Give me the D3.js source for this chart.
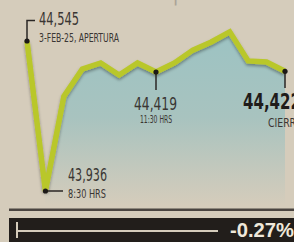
<!DOCTYPE html>
<html lang="es">
  <head>
    <meta charset="utf-8">
    <title>Bolsa - puntos</title>
    <script src="https://d3js.org/d3.v7.min.js"></script>
    <style>
      html, body { margin: 0; padding: 0; background: #d5ccbb; }
      svg { display: block; }
    </style>
  </head>
  <body>
    <script type="text/javascript">
      // horas de cada lectura (cada media hora)
      const horas = ["8:00","8:30","9:00","9:30","10:00","10:30","11:00","11:30",
                     "12:00","12:30","13:00","13:30","14:00","14:30","15:00"];
      // puntos del indice
      const puntos = [44545, 43936, 44320, 44431, 44456, 44407, 44456, 44419,
                      44456, 44508, 44541, 44582, 44464, 44460, 44422];
      // etiquetas destacadas: indice, valor, nota
      const etiquetas = [
        {i: 0, valor: "44,545", nota: "3-FEB-25, APERTURA"},
        {i: 1, valor: "43,936", nota: "8:30 HRS"},
        {i: 7, valor: "44,419", nota: "11:30 HRS"},
        {i: 14, valor: "44,422", nota: "CIERRE"}
      ];
      const variacion = "-0.27%";
      const titulo = "Bolsa mexicana | Puntos";

      const width = 294;
      const height = 242;
      const font = "'Liberation Sans Narrow', 'DejaVu Sans Condensed', sans-serif";
      const ink = "#3a3633";
      const lineColor = "#b9c72b";
      const base = 205;

      const svg = d3.select("body")
        .append("svg")
        .attr("width", width)
        .attr("height", height);

      const defs = svg.append("defs");
      const grad = defs.append("linearGradient")
        .attr("id", "relleno")
        .attr("gradientUnits", "userSpaceOnUse")
        .attr("x1", 0).attr("y1", 30).attr("x2", 0).attr("y2", base);
      grad.append("stop").attr("offset", 0).attr("stop-color", "#9cc3c3");
      grad.append("stop").attr("offset", 0.5).attr("stop-color", "#a8c3bf");
      grad.append("stop").attr("offset", 1).attr("stop-color", "#d5ccbb");

      const shadow = defs.append("filter")
        .attr("id", "sombra")
        .attr("x", "-10%").attr("y", "-10%")
        .attr("width", "120%").attr("height", "130%");
      shadow.append("feDropShadow")
        .attr("dx", 0).attr("dy", 2)
        .attr("stdDeviation", 1.5)
        .attr("flood-color", "#000")
        .attr("flood-opacity", 0.35);

      svg.append("rect")
        .attr("width", width).attr("height", height)
        .attr("fill", "#d5ccbb");

      // titulo cortado arriba
      svg.append("text")
        .attr("x", 10).attr("y", 0)
        .attr("font-family", font)
        .attr("font-size", 22)
        .attr("fill", "#aaa397")
        .text(titulo);

      const x = d3.scalePoint()
        .domain(horas)
        .range([27, 285]);

      const y = d3.scaleLinear()
        .domain([43936, 44545])
        .range([191, 41]);

      const pts = horas.map((h, i) => [x(h), y(puntos[i])]);

      // area bajo la linea, limitada por el brazo izquierdo
      const poly = pts.concat([[x(horas[horas.length - 1]), base], [x(horas[1]), base]]);
      svg.append("path")
        .attr("d", d3.line()(poly) + "Z")
        .attr("fill", "url(#relleno)");

      svg.append("path")
        .attr("d", d3.line()(pts))
        .attr("fill", "none")
        .attr("stroke", lineColor)
        .attr("stroke-width", 5.5)
        .attr("stroke-linejoin", "miter")
        .attr("filter", "url(#sombra)");

      // guias
      const p0 = pts[0], p1 = pts[1], p7 = pts[7], p14 = pts[14];
      const guias = [
        [[p0[0], p0[1]], [p0[0], 20.5], [35, 20.5]],
        [[p1[0], p1[1]], [63, p1[1]]],
        [[p7[0], p7[1]], [p7[0], 90]],
        [[p14[0], p14[1]], [p14[0], 88]]
      ];
      svg.append("g")
        .selectAll("path")
        .data(guias)
        .enter()
        .append("path")
        .attr("d", d => d3.line()(d))
        .attr("fill", "none")
        .attr("stroke", "#2a2624")
        .attr("stroke-width", 1.5);

      svg.append("g")
        .selectAll("circle")
        .data(etiquetas)
        .enter()
        .append("circle")
        .attr("cx", d => pts[d.i][0])
        .attr("cy", d => pts[d.i][1])
        .attr("r", 2.6)
        .attr("fill", "#1c1917");

      // textos de las etiquetas
      const pos = [
        {vx: 39, vy: 25, vl: 40, vs: 18, vw: "normal", nx: 39, ny: 42, nl: 80, ns: 12},
        {vx: 68, vy: 181, vl: 39, vs: 18, vw: "normal", nx: 68, ny: 198, nl: 38, ns: 12},
        {vx: 134, vy: 110, vl: 43, vs: 18, vw: "normal", nx: 140, ny: 123, nl: 32, ns: 11},
        {vx: 243, vy: 109, vl: 58, vs: 22, vw: "bold", nx: 268, ny: 127, nl: 34, ns: 12}
      ];
      const gl = svg.append("g");
      etiquetas.forEach((d, k) => {
        const p = pos[k];
        gl.append("text")
          .attr("x", p.vx).attr("y", p.vy)
          .attr("font-family", font)
          .attr("font-size", p.vs)
          .attr("font-weight", p.vw)
          .attr("textLength", p.vl)
          .attr("lengthAdjust", "spacingAndGlyphs")
          .attr("fill", k === 3 ? "#1f1c1a" : ink)
          .text(d.valor);
        gl.append("text")
          .attr("x", p.nx).attr("y", p.ny)
          .attr("font-family", font)
          .attr("font-size", p.ns)
          .attr("textLength", p.nl)
          .attr("lengthAdjust", "spacingAndGlyphs")
          .attr("fill", ink)
          .text(d.nota);
      });

      // regla y barra inferior
      svg.append("rect")
        .attr("x", 9).attr("y", 208.5)
        .attr("width", width - 9).attr("height", 2.5)
        .attr("fill", "#4a4440");

      svg.append("rect")
        .attr("x", 9).attr("y", 218)
        .attr("width", width - 9).attr("height", 24)
        .attr("fill", "#221e1b");

      svg.append("path")
        .attr("d", d3.line()([[17, 222], [17, 238]]))
        .attr("stroke", "#d5ccbb")
        .attr("stroke-width", 2);
      svg.append("path")
        .attr("d", d3.line()([[17, 231], [218, 231]]))
        .attr("stroke", "#d5ccbb")
        .attr("stroke-width", 2);

      svg.append("text")
        .attr("x", 230).attr("y", 237)
        .attr("font-family", "'Liberation Sans', Arial, sans-serif")
        .attr("font-size", 20)
        .attr("font-weight", "bold")
        .attr("textLength", 64)
        .attr("lengthAdjust", "spacingAndGlyphs")
        .attr("fill", "#efe8da")
        .text(variacion);
    </script>
  </body>
</html>
